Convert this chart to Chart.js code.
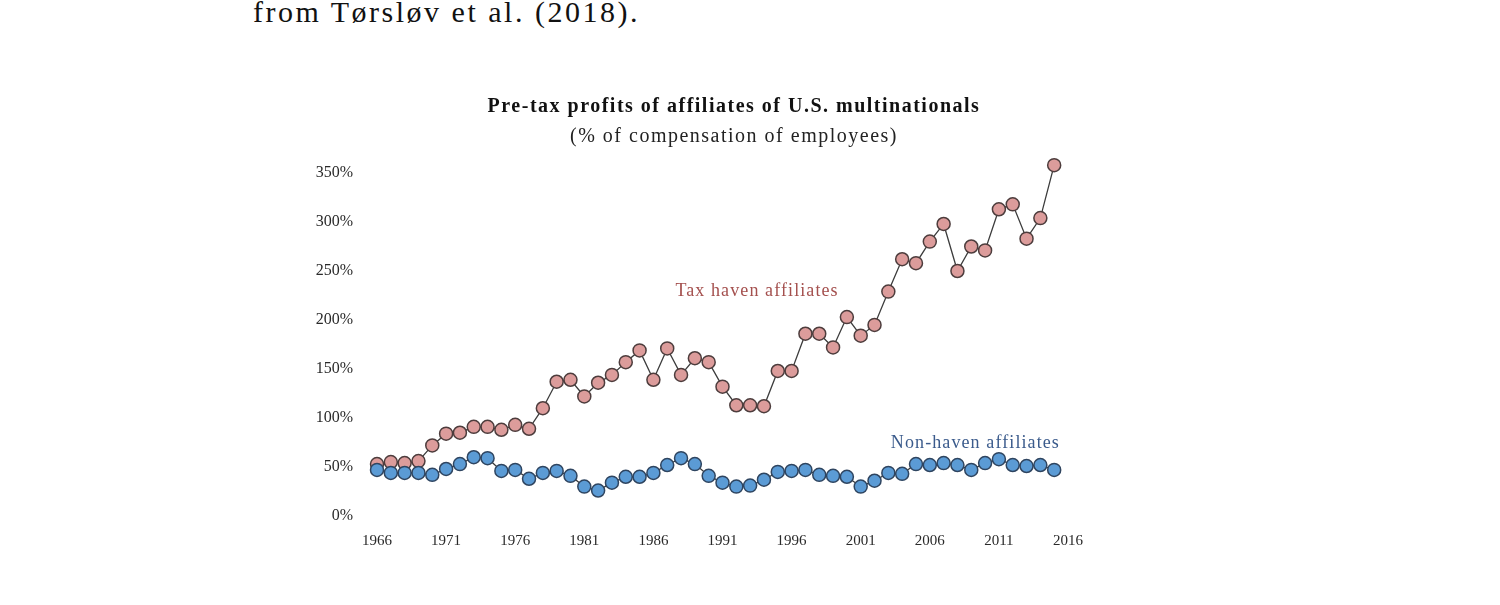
<!DOCTYPE html>
<html>
<head>
<meta charset="utf-8">
<script src="https://cdn.jsdelivr.net/npm/chart.js@4/dist/chart.umd.min.js"></script>
<style>
  html, body { margin: 0; padding: 0; background: #fff; }
  #wrap { position: absolute; left: 0; top: 0; width: 1500px; height: 605px; }
  #caption { position: absolute; left: 253px; top: -5px; font-family: "Liberation Serif", serif; font-size: 30px; letter-spacing: 2.5px; color: #111; white-space: nowrap; }
</style>
</head>
<body>
<div id="caption">from Tørsløv et al. (2018).</div>
<div id="wrap"><canvas id="chart_profits"></canvas></div>
<script>
'use strict';

const years = [1966, 1967, 1968, 1969, 1970, 1971, 1972, 1973, 1974, 1975,
    1976, 1977, 1978, 1979, 1980, 1981, 1982, 1983, 1984, 1985,
    1986, 1987, 1988, 1989, 1990, 1991, 1992, 1993, 1994, 1995,
    1996, 1997, 1998, 1999, 2000, 2001, 2002, 2003, 2004, 2005,
    2006, 2007, 2008, 2009, 2010, 2011, 2012, 2013, 2014, 2015];

// % of compensation of employees
const havenProfits = [53, 55, 54, 56, 72, 84, 85, 91, 91, 88,
    93, 89, 110, 137, 139, 122, 136, 144, 157, 169,
    139, 171, 144, 161, 157, 132, 113, 113, 112, 148,
    148, 186, 186, 172, 203, 184, 195, 229, 262, 258,
    280, 298, 250, 275, 271, 313, 318, 283, 304, 358];

const nonHavenProfits = [47, 44, 44, 44, 42, 48, 53, 60, 59, 46,
    47, 38, 44, 46, 41, 30, 26, 34, 40, 40,
    44, 52, 59, 53, 41, 34, 30, 31, 37, 45,
    46, 47, 42, 41, 40, 30, 36, 44, 43, 53,
    52, 54, 52, 47, 54, 58, 52, 51, 52, 47];

const xTicks = [1966, 1971, 1976, 1981, 1986, 1991, 1996, 2001, 2006, 2011, 2016];
const yTicks = [0, 50, 100, 150, 200, 250, 300, 350];

const seriesLabels = ['Non-haven affiliates', 'Tax haven affiliates'];

const COLORS = {
    haven: '#dc9c9b',
    havenBorder: '#4d3d3d',
    havenText: '#a4504e',
    nonHaven: '#5b9bd5',
    nonHavenBorder: '#2f4560',
    nonHavenText: '#3b5b8c',
    line: '#3c3c3c',
    tick: '#2a2a2a'
};

const SERIF = '"Liberation Serif", "Times New Roman", serif';

// labels written next to the lines, placed in data units
const seriesNotes = [
    {text: seriesLabels[1], x: 1993.5, y: 229, color: COLORS.havenText},
    {text: seriesLabels[0], x: 2009.3, y: 74, color: COLORS.nonHavenText}
];

// the title font of the picture is wider than Liberation Serif, so spread the letters
// (title/subtitle boxes draw before the datasets; ticks are moved to z 1 so they stay plain)
const spacingPlugin = {
    id: 'titleSpacing',
    beforeDraw(chart) {
        chart.ctx.letterSpacing = '1.5px';
    },
    beforeDatasetsDraw(chart) {
        chart.ctx.letterSpacing = '0px';
    }
};

const notesPlugin = {
    id: 'seriesNotes',
    afterDatasetsDraw(chart) {
        let ctx = chart.ctx,
            xs = chart.scales.x,
            ys = chart.scales.y;
        ctx.save();
        ctx.font = '18px ' + SERIF;
        ctx.letterSpacing = '1.1px';
        ctx.textAlign = 'center';
        ctx.textBaseline = 'middle';
        seriesNotes.forEach(note => {
            ctx.fillStyle = note.color;
            ctx.fillText(note.text, xs.getPixelForValue(note.x), ys.getPixelForValue(note.y));
        });
        ctx.restore();
    }
};

function makeSeries(values, label, fill, border) {
    return {
        label: label,
        data: years.map((yr, i) => ({x: yr, y: values[i]})),
        borderColor: COLORS.line,
        borderWidth: 1.3,
        pointRadius: 6.5,
        pointBorderWidth: 1.5,
        pointBackgroundColor: fill,
        pointBorderColor: border,
        lineTension: 0,
        fill: false,
        clip: false
    };
}

function renderChart() {
    let ctx = document.getElementById('chart_profits').getContext('2d');
    window.ChartProfits = new Chart(ctx, {
        type: 'line',
        data: {
            datasets: [
                makeSeries(nonHavenProfits, seriesLabels[0], COLORS.nonHaven, COLORS.nonHavenBorder),
                makeSeries(havenProfits, seriesLabels[1], COLORS.haven, COLORS.havenBorder)
            ]
        },
        options: {
            responsive: true,
            maintainAspectRatio: false,
            animation: false,
            layout: {padding: {left: 0, right: 32, top: 0, bottom: 0}},
            plugins: {
                legend: {display: false},
                tooltip: {enabled: false},
                title: {
                    display: true,
                    text: 'Pre-tax profits of affiliates of U.S. multinationals',
                    color: '#111',
                    font: {family: SERIF, size: 20, weight: 'bold', lineHeight: 1.2},
                    padding: {top: 95, bottom: 5}
                },
                subtitle: {
                    display: true,
                    text: '(% of compensation of employees)',
                    color: '#222',
                    font: {family: SERIF, size: 20, lineHeight: 1.2},
                    padding: {top: 1, bottom: 24}
                }
            },
            scales: {
                x: {
                    type: 'linear',
                    min: xTicks[0],
                    max: xTicks[xTicks.length - 1],
                    afterFit: scale => { scale.height = 89; },
                    afterBuildTicks: scale => { scale.ticks = xTicks.map(v => ({value: v})); },
                    grid: {display: false, drawTicks: false},
                    border: {display: false},
                    ticks: {
                        z: 1,
                        padding: 16,
                        color: COLORS.tick,
                        font: {family: SERIF, size: 15},
                        callback: v => String(v)
                    }
                },
                y: {
                    min: yTicks[0],
                    max: yTicks[yTicks.length - 1],
                    afterFit: scale => { scale.width = 377; },
                    afterBuildTicks: scale => { scale.ticks = yTicks.map(v => ({value: v})); },
                    grid: {display: false, drawTicks: false},
                    border: {display: false},
                    ticks: {
                        z: 1,
                        padding: 24,
                        color: COLORS.tick,
                        font: {family: SERIF, size: 16},
                        callback: v => v + '%'
                    }
                },
                // empty axis on the right, only to keep the plot where the picture has it
                spare: {
                    type: 'linear',
                    position: 'right',
                    afterFit: scale => { scale.width = 400; },
                    grid: {display: false},
                    border: {display: false},
                    ticks: {display: false}
                }
            }
        },
        plugins: [spacingPlugin, notesPlugin]
    });
}

renderChart();
</script>
</body>
</html>
